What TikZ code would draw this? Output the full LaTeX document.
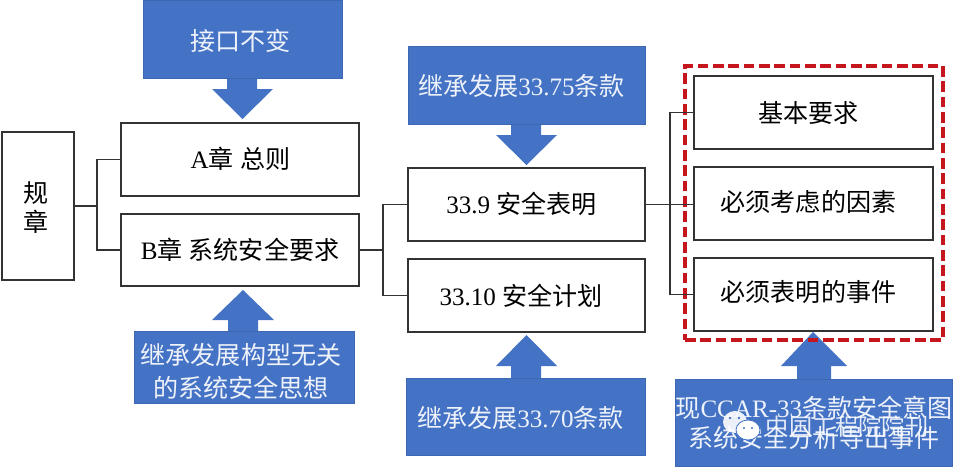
\documentclass[tikz,border=0pt]{standalone}
\usepackage{fontspec}
\setmainfont{Liberation Serif}
\newfontfamily\cjk{Noto Sans CJK SC}
\newcommand{\zh}[1]{{\cjk #1}}
\definecolor{bluefill}{HTML}{4472C4}
\definecolor{blueedge}{HTML}{3C67B2}
\definecolor{darkline}{HTML}{333333}
\definecolor{redbox}{HTML}{C5161D}
\definecolor{softwhite}{HTML}{EEF2FA}
\tikzset{
  whitebox/.style={draw=darkline,line width=1.1pt,fill=white,inner sep=0pt},
  bluebox/.style={draw=blueedge,line width=0.6pt,fill=bluefill,inner sep=0pt},
  blacktext/.style={text=black,font=\fontsize{18.8pt}{22pt}\selectfont,inner sep=0pt},
  whitetext/.style={text=softwhite,font=\fontsize{18.8pt}{22pt}\selectfont,inner sep=0pt},
  bluearrow/.style={fill=bluefill,draw=none},
  wire/.style={draw=darkline,line width=0.9pt},
  watermark/.style={text=white,opacity=0.85,font=\fontsize{17.4pt}{22pt}\selectfont,inner sep=0pt}
}
% style, name, width, height, cx, cy
\newcommand{\boxnode}[6]{\node[#1,minimum width=#3*0.75pt,minimum height=#4*0.75pt] (#2) at (#5,#6) {};}
\begin{document}
\begin{tikzpicture}[x=0.75pt,y=-0.75pt]
\useasboundingbox (0,0) rectangle (957,468);
% arrows
\fill[bluearrow] (227,77) -- (257,77) -- (257,89) -- (273,89) -- (242.5,119) -- (212,89) -- (227,89) -- cycle;
\fill[bluearrow] (511,123) -- (541,123) -- (541,135) -- (557,135) -- (526.5,165) -- (496,135) -- (511,135) -- cycle;
\fill[bluearrow] (228,332) -- (258,332) -- (258,320) -- (274,320) -- (243,290) -- (212,320) -- (228,320) -- cycle;
\fill[bluearrow] (511,379) -- (541,379) -- (541,366) -- (557,366) -- (526.5,335) -- (496,366) -- (511,366) -- cycle;
\fill[bluearrow] (797,380) -- (831,380) -- (831,366) -- (847,366) -- (813,332) -- (781,366) -- (797,366) -- cycle;
% white boxes
\boxnode{whitebox}{gz}{72}{148}{38}{206}
\boxnode{whitebox}{a}{238}{73}{240}{159.5}
\boxnode{whitebox}{b}{238}{72}{240}{250}
\boxnode{whitebox}{s9}{237}{73}{526.5}{204.5}
\boxnode{whitebox}{s10}{237}{73}{526.5}{295.5}
\boxnode{whitebox}{r1}{239}{73}{813.5}{112.5}
\boxnode{whitebox}{r2}{239}{73}{813.5}{203.5}
\boxnode{whitebox}{r3}{239}{73}{813.5}{294.5}
\node[blacktext] (gz1) at (36,193) {\zh{规}};
\node[blacktext] (gz2) at (36,222) {\zh{章}};
\node[blacktext] (at) at (240.5,159) {A\zh{章} \zh{总则}};
\node[blacktext] (bt) at (240,250) {B\zh{章} \zh{系统安全要求}};
\node[blacktext] (s9t) at (521.5,204) {33.9 \zh{安全表明}};
\node[blacktext] (s10t) at (521,296) {33.10 \zh{安全计划}};
\node[blacktext] (r1t) at (808.5,113) {\zh{基本要求}};
\node[blacktext] (r2t) at (808.5,202) {\zh{必须考虑的因素}};
\node[blacktext] (r3t) at (808.5,292) {\zh{必须表明的事件}};
% blue boxes
\boxnode{bluebox}{t1}{199}{78}{242.5}{39}
\boxnode{bluebox}{t2}{237}{78}{526.5}{85}
\boxnode{bluebox}{b1}{220}{72}{244}{367}
\boxnode{bluebox}{b2}{239}{77}{526}{416.5}
\boxnode{bluebox}{b3}{277}{87}{813.5}{422.5}
\node[whitetext] (t1t) at (240.5,41) {\zh{接口不变}};
\node[whitetext] (t2t) at (521.5,86) {\zh{继承发展}33.75\zh{条款}};
\node[whitetext] (b1a) at (241,355) {\zh{继承发展构型无关}};
\node[whitetext] (b1b) at (241,388) {\zh{的系统安全思想}};
\node[whitetext] (b2t) at (520.5,418) {\zh{继承发展}33.70\zh{条款}};
\node[whitetext] (b3a) at (814,408) {\zh{现}CCAR-33\zh{条款安全意图}};
\node[whitetext] (b3b) at (814,438) {\zh{系统安全分析导出事件}};
% dashed frame
\node[draw=redbox,line width=2.8pt,dash pattern=on 8pt off 3.5pt,minimum width=258*0.75pt,minimum height=274*0.75pt,inner sep=0pt] (frame) at (814,203) {};
% connectors
\coordinate (j1) at (97,206);
\coordinate (j2) at (383,250);
\coordinate (j3) at (670,204.5);
\draw[wire] (gz.east) -- (j1);
\draw[wire] (a.west) -| (j1) |- (b.west);
\draw[wire] (b.east) -- (j2);
\draw[wire] (s9.west) -| (j2) |- (s10.west);
\draw[wire] (s9.east) -- (r2.west |- s9.east);
\draw[wire] (r1.west) -| (j3) |- (r3.west);
% watermark
\fill[white,opacity=0.9] (735,422) ellipse (12 and 11);
\fill[white,draw=bluefill,line width=0.6pt] (748,430) ellipse (12 and 10);
\fill[bluefill] (730,418) circle (1.3) (739,418) circle (1.3) (744,428) circle (1.2) (752,428) circle (1.2);
\node[watermark] (wm) at (847,427) {\zh{中国工程院院刊}};
\end{tikzpicture}
\end{document}
